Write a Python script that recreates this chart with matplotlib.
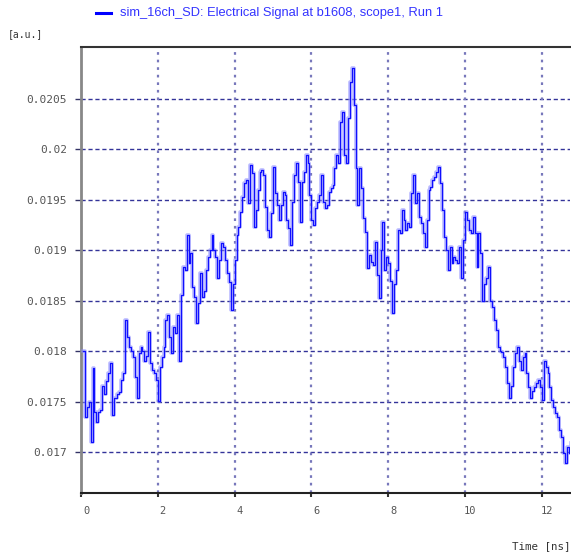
import numpy as np
import matplotlib
matplotlib.use('Agg')
import matplotlib.pyplot as plt
from matplotlib.lines import Line2D
from matplotlib import transforms

# sample spacing of the trace (ns)
dt = 0.05
t0 = 0.05

# signal values, one every 0.05 ns starting at 0.05 ns
signal = [
    0.01800, 0.01735, 0.01745, 0.01750, 0.01710, 0.01783, 0.01740, 0.01730, 0.01740, 0.01742,
    0.01765, 0.01758, 0.01770, 0.01778, 0.01788, 0.01737, 0.01754, 0.01754, 0.01758, 0.01760,
    0.01771, 0.01778, 0.01831, 0.01814, 0.01804, 0.01800, 0.01794, 0.01774, 0.01754, 0.01798,
    0.01804, 0.01800, 0.01790, 0.01795, 0.01819, 0.01788, 0.01781, 0.01778, 0.01771, 0.01751,
    0.01784, 0.01794, 0.01804, 0.01831, 0.01836, 0.01814, 0.01798, 0.01824, 0.01818, 0.01836,
    0.01790, 0.01856, 0.01883,
    # 2.70 ns
    0.01880, 0.01915, 0.01887, 0.01897, 0.01864, 0.01854, 0.01828, 0.01848, 0.01877, 0.01854,
    0.01860, 0.01880, 0.01893, 0.01900, 0.01915, 0.01900, 0.01893, 0.01873, 0.01890, 0.01907,
    0.01903, 0.01890, 0.01877, 0.01869, 0.01841, 0.01867, 0.01890, 0.01915, 0.01923, 0.01938,
    0.01953, 0.01967, 0.01970, 0.01947, 0.01985, 0.01977, 0.01923, 0.01940, 0.01960, 0.01978,
    0.01980, 0.01975, 0.01943, 0.01920, 0.01913, 0.01937, 0.01983, 0.01957, 0.01945, 0.01930,
    # 5.20 ns
    0.01945, 0.01958, 0.01955, 0.01930, 0.01922, 0.01905, 0.01948, 0.01975, 0.01987, 0.01968,
    0.01928, 0.01968, 0.01978, 0.01994, 0.01987, 0.01955, 0.01930, 0.01925, 0.01942, 0.01948,
    0.01955, 0.01975, 0.01948, 0.01942, 0.01945, 0.01958, 0.01962, 0.01965, 0.01982, 0.01994,
    0.01987, 0.02027, 0.02037, 0.01994, 0.01987, 0.02031, 0.02067, 0.02081, 0.02044, 0.01982,
    0.01945, 0.01982, 0.01962, 0.01932, 0.01918, 0.01882, 0.01895, 0.01888, 0.01885, 0.01908,
    0.01875, 0.01853, 0.01900, 0.01928,
    # 7.90 ns
    0.01880, 0.01893, 0.01887, 0.01870, 0.01838, 0.01867, 0.01880, 0.01920, 0.01917, 0.01940,
    0.01930, 0.01920, 0.01927, 0.01923, 0.01957, 0.01975, 0.01947, 0.01957, 0.01933, 0.01927,
    0.01917, 0.01903, 0.01930, 0.01960, 0.01963, 0.01970, 0.01973, 0.01978, 0.01983, 0.01967,
    0.01940, 0.01913, 0.01900, 0.01880, 0.01903, 0.01887, 0.01893, 0.01890, 0.01887, 0.01903,
    0.01873, 0.01910, 0.01938, 0.01930, 0.01920, 0.01917, 0.01933,
    # 10.25 ns
    0.01917, 0.01883, 0.01917, 0.01897, 0.01850, 0.01867, 0.01873, 0.01883, 0.01850, 0.01844,
    0.01831, 0.01821, 0.01804, 0.01800, 0.01799, 0.01794, 0.01784, 0.01768, 0.01754, 0.01765,
    0.01784, 0.01798, 0.01804, 0.01790, 0.01781, 0.01794, 0.01798, 0.01778, 0.01764, 0.01754,
    0.01761, 0.01764, 0.01768, 0.01771, 0.01764, 0.01752, 0.01790, 0.01784, 0.01778, 0.01764,
    0.01752, 0.01745, 0.01739, 0.01735, 0.01722, 0.01715, 0.01699, 0.01689, 0.01705, 0.01699,
    0.01709,
]

x_ticks = [0, 2, 4, 6, 8, 10, 12]
y_ticks = [0.017, 0.0175, 0.018, 0.0185, 0.019, 0.0195, 0.02, 0.0205]
y_tick_labels = ['0.017', '0.0175', '0.018', '0.0185', '0.019', '0.0195', '0.02', '0.0205']

title = 'sim_16ch_SD: Electrical Signal at b1608, scope1, Run 1'
x_label = 'Time [ns]'
y_label = '[a.u.]'

time = t0 + dt * np.arange(len(signal))

W, H = 571, 553
fig = plt.figure(figsize=(W / 100, H / 100), dpi=100)
ax = fig.add_axes([81 / W, 1 - 493 / H, (570 - 81) / W, (493 - 47) / H])

# soft halo + main trace, stair style
ax.step(time, signal, where='post', color='#8c8cff', lw=2.6, alpha=0.6, zorder=3)
ax.step(time, signal, where='post', color='#0f0fff', lw=0.9, zorder=4)

ax.set_xlim(0.034, 12.734)
ax.set_ylim(0.016594, 0.021015)

ax.set_xticks(x_ticks)
ax.set_xticklabels([str(v) for v in x_ticks])
ax.set_yticks(y_ticks)
ax.set_yticklabels(y_tick_labels)

mono = 'DejaVu Sans Mono'
ax.tick_params(axis='y', direction='out', length=4, width=1, color='#333366',
               pad=6, labelsize=8, labelcolor='#555555')
ax.tick_params(axis='x', direction='out', length=3, width=1.5, color='#333333',
               pad=6, labelsize=7.5, labelcolor='#555555')
for lab in ax.get_xticklabels() + ax.get_yticklabels():
    lab.set_family(mono)
off = transforms.ScaledTranslation(5 / 100, 0, fig.dpi_scale_trans)
for lab in ax.get_xticklabels():
    lab.set_transform(lab.get_transform() + off)

# grid: dashed horizontal, dotted vertical
for y in y_ticks:
    ax.axhline(y, color='#333399', lw=1.0, ls=(0, (3, 2)), zorder=1)
for x in x_ticks:
    ax.axvline(x, color='#7777bb', lw=1.6, ls=(0, (1.2, 2.2)), zorder=1)

ax.spines['right'].set_visible(False)
ax.spines['left'].set_color('#888888')
ax.spines['left'].set_linewidth(2.0)
ax.spines['bottom'].set_color('#222222')
ax.spines['bottom'].set_linewidth(1.5)
ax.spines['top'].set_color('#333333')
ax.spines['top'].set_linewidth(1.5)

# legend-like title
fig.add_artist(Line2D([96 / W, 111 / W], [1 - 13 / H, 1 - 13 / H], color='#0000ff', lw=2.2))
fig.text(120 / W, 1 - 13 / H, title, color='#3333ff', fontsize=9.3,
         family='Liberation Sans', va='center', ha='left')

fig.text(8 / W, 1 - 34 / H, y_label, family=mono, fontsize=7, color='#333333',
         va='center', ha='left')
fig.text(570 / W, 1 - 546 / H, x_label, family=mono, fontsize=7.8, color='#333333',
         va='center', ha='right')

fig.savefig('out.png', dpi=100)
